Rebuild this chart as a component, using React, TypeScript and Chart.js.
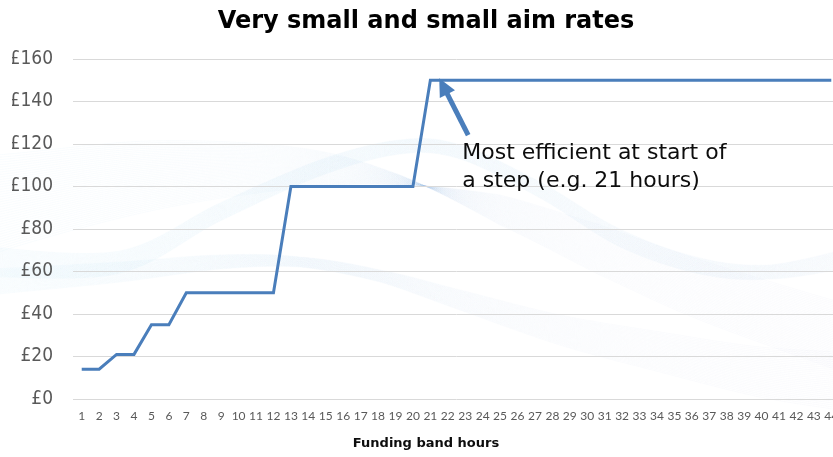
import React, { useEffect, useRef } from "react";
import { Chart, registerables } from "chart.js";

Chart.register(...registerables);

const TITLE = "Very small and small aim rates";
const X_TITLE = "Funding band hours";
const CATEGORIES = [
  "1", "2", "3", "4", "5", "6", "7", "8", "9", "10", "11", "12", "13", "14", "15",
  "16", "17", "18", "19", "20", "21", "22", "23", "24", "25", "26", "27", "28", "29",
  "30", "31", "32", "33", "34", "35", "36", "37", "38", "39", "40", "41", "42", "43", "44",
];
const RATES = [
  14, 14, 21, 21, 35, 35, 50, 50, 50, 50, 50, 50, 100, 100, 100, 100, 100, 100, 100, 100,
  150, 150, 150, 150, 150, 150, 150, 150, 150, 150, 150, 150, 150, 150, 150, 150, 150, 150,
  150, 150, 150, 150, 150, 150,
];
const Y_MIN = 0;
const Y_MAX = 160;
const Y_STEP = 20;
const ANNOTATION_LINES = ["Most efficient at start of", "a step (e.g. 21 hours)"];

const LINE_COLOR = "#4A7EBB";
const CANVAS_W = 840;
const CANVAS_H = 457;

// Decorative background ribbons (slide background), pixel space
type Band = { pts: [number, number][]; spread: number[]; n: number; alpha: number; c1: string; c2: string };
const BANDS: Band[] = [
  {
    pts: [[-10, 205], [150, 176], [300, 168], [400, 180], [500, 210], [600, 250], [700, 290], [850, 340]],
    spread: [100, 70, 40, 10, -30, -50, -60, -70],
    n: 40, alpha: 0.045, c1: "#7cc6ea", c2: "#a6a8d8",
  },
  {
    pts: [[-10, 262], [120, 262], [220, 212], [320, 168], [400, 147], [460, 152], [540, 190], [620, 238], [700, 266], [770, 272], [850, 258]],
    spread: [30, 22, 18, 16, 14, 14, 16, 18, 16, 14, 20],
    n: 30, alpha: 0.05, c1: "#7cc8ec", c2: "#a4c4e6",
  },
  {
    pts: [[-10, 282], [120, 272], [220, 262], [300, 262], [380, 276], [460, 300], [560, 330], [660, 352], [760, 372], [850, 382]],
    spread: [26, 20, 14, 10, 12, 20, 30, 40, 50, 60],
    n: 30, alpha: 0.045, c1: "#86ccec", c2: "#a9abd9",
  },
];

function catmull(pts: [number, number][], spread: number[]) {
  const out: { x: number; y: number; s: number }[] = [];
  for (let i = 0; i < pts.length - 1; i++) {
    const p0 = pts[i - 1] || pts[i];
    const p1 = pts[i];
    const p2 = pts[i + 1];
    const p3 = pts[i + 2] || pts[i + 1];
    for (let k = 0; k < 20; k++) {
      const s = k / 20;
      const s2 = s * s;
      const s3 = s2 * s;
      const f = (a: number, b: number, c: number, d: number) =>
        0.5 * (2 * b + (-a + c) * s + (2 * a - 5 * b + 4 * c - d) * s2 + (-a + 3 * b - 3 * c + d) * s3);
      out.push({
        x: f(p0[0], p1[0], p2[0], p3[0]),
        y: f(p0[1], p1[1], p2[1], p3[1]),
        s: spread[i] + (spread[i + 1] - spread[i]) * s,
      });
    }
  }
  const last = pts[pts.length - 1];
  out.push({ x: last[0], y: last[1], s: spread[spread.length - 1] });
  return out;
}

const backgroundPlugin = {
  id: "slideBackground",
  beforeDraw(chart: any) {
    const ctx = chart.ctx as CanvasRenderingContext2D;
    ctx.save();
    ctx.lineWidth = 1;
    for (const b of BANDS) {
      const path = catmull(b.pts, b.spread);
      const grad = ctx.createLinearGradient(0, 0, CANVAS_W, 0);
      grad.addColorStop(0, b.c1);
      grad.addColorStop(1, b.c2);
      ctx.strokeStyle = grad;
      ctx.globalAlpha = b.alpha;
      for (let j = 0; j < b.n; j++) {
        const t = j / (b.n - 1) - 0.5;
        ctx.beginPath();
        path.forEach((p, idx) => {
          const y = p.y + t * p.s;
          if (idx === 0) ctx.moveTo(p.x, y);
          else ctx.lineTo(p.x, y);
        });
        ctx.stroke();
      }
    }
    ctx.restore();
  },
};

const annotationPlugin = {
  id: "stepAnnotation",
  afterDatasetsDraw(chart: any) {
    const ctx = chart.ctx as CanvasRenderingContext2D;
    const xs = chart.scales.x;
    const ys = chart.scales.y;
    const tipX = xs.getPixelForValue(20.51);
    const tipY = ys.getPixelForValue(151);
    const tailX = xs.getPixelForValue(22.17);
    const tailY = ys.getPixelForValue(124.2);
    const ang = Math.atan2(tipY - tailY, tipX - tailX);
    const headLen = 18;
    const headHalf = 8.5;
    const bx = tipX - Math.cos(ang) * headLen;
    const by = tipY - Math.sin(ang) * headLen;
    ctx.save();
    ctx.strokeStyle = LINE_COLOR;
    ctx.fillStyle = LINE_COLOR;
    ctx.lineWidth = 5;
    ctx.beginPath();
    ctx.moveTo(tailX, tailY);
    ctx.lineTo(bx + Math.cos(ang) * 2, by + Math.sin(ang) * 2);
    ctx.stroke();
    ctx.beginPath();
    ctx.moveTo(tipX, tipY);
    ctx.lineTo(bx + Math.sin(ang) * headHalf, by - Math.cos(ang) * headHalf);
    ctx.lineTo(bx - Math.sin(ang) * headHalf, by + Math.cos(ang) * headHalf);
    ctx.closePath();
    ctx.fill();

    ctx.fillStyle = "#0d0d0d";
    ctx.font = "22px 'DejaVu Sans'";
    ctx.textAlign = "left";
    ctx.textBaseline = "alphabetic";
    const tx = xs.getPixelForValue(21.83);
    ctx.fillText(ANNOTATION_LINES[0], tx, ys.getPixelForValue(112.9));
    ctx.fillText(ANNOTATION_LINES[1], tx, ys.getPixelForValue(99.8));
    ctx.restore();
  },
};

export default function App() {
  const ref = useRef<HTMLCanvasElement>(null);
  useEffect(() => {
    if (!ref.current) return;
    const chart = new Chart(ref.current, {
      type: "line",
      data: {
        labels: CATEGORIES,
        datasets: [
          {
            label: "Rate",
            data: RATES,
            borderColor: LINE_COLOR,
            backgroundColor: LINE_COLOR,
            borderWidth: 3,
            pointRadius: 0,
            tension: 0,
            fill: false,
          },
        ],
      },
      options: {
        animation: false,
        responsive: false,
        maintainAspectRatio: false,
        devicePixelRatio: 1,
        layout: { padding: { left: 12, right: 0, top: 0, bottom: 0 } },
        plugins: {
          legend: { display: false },
          tooltip: { enabled: false },
          title: {
            display: true,
            text: TITLE,
            color: "#000000",
            font: { family: "'DejaVu Sans'", size: 24, weight: "bold" },
            padding: { top: 7, bottom: 23.2 },
          },
          subtitle: {
            display: true,
            position: "bottom",
            text: X_TITLE,
            color: "#0d0d0d",
            font: { family: "'DejaVu Sans'", size: 13, weight: "bold" },
            padding: { top: 2, bottom: 6 },
          },
        },
        scales: {
          x: {
            offset: true,
            grid: { display: false, drawTicks: false },
            border: { display: false },
            ticks: {
              autoSkip: false,
              maxRotation: 0,
              minRotation: 0,
              padding: 0,
              color: "#595959",
              font: { family: "Lato", size: 12, lineHeight: 2.9 },
            },
            afterFit(scale: any) {
              scale.height = 34.4;
            },
          },
          y: {
            min: Y_MIN,
            max: Y_MAX,
            grid: { color: "#d9d9d9", lineWidth: 1, drawTicks: false },
            border: { display: false },
            ticks: {
              stepSize: Y_STEP,
              padding: 20,
              color: "#595959",
              font: { family: "'DejaVu Sans Condensed', 'DejaVu Sans'", size: 19 },
              callback: (v: any) => "£" + v,
            },
            afterFit(scale: any) {
              scale.width = 61;
            },
          },
        },
      },
      plugins: [backgroundPlugin, annotationPlugin],
    } as any);
    return () => chart.destroy();
  }, []);
  return (
    <div
      style={{
        position: "fixed",
        left: 0,
        top: 0,
        width: 833,
        height: 457,
        overflow: "hidden",
        background: "#ffffff",
      }}
    >
      <canvas
        ref={ref}
        width={CANVAS_W}
        height={CANVAS_H}
        style={{ display: "block", width: CANVAS_W, height: CANVAS_H }}
      />
    </div>
  );
}
